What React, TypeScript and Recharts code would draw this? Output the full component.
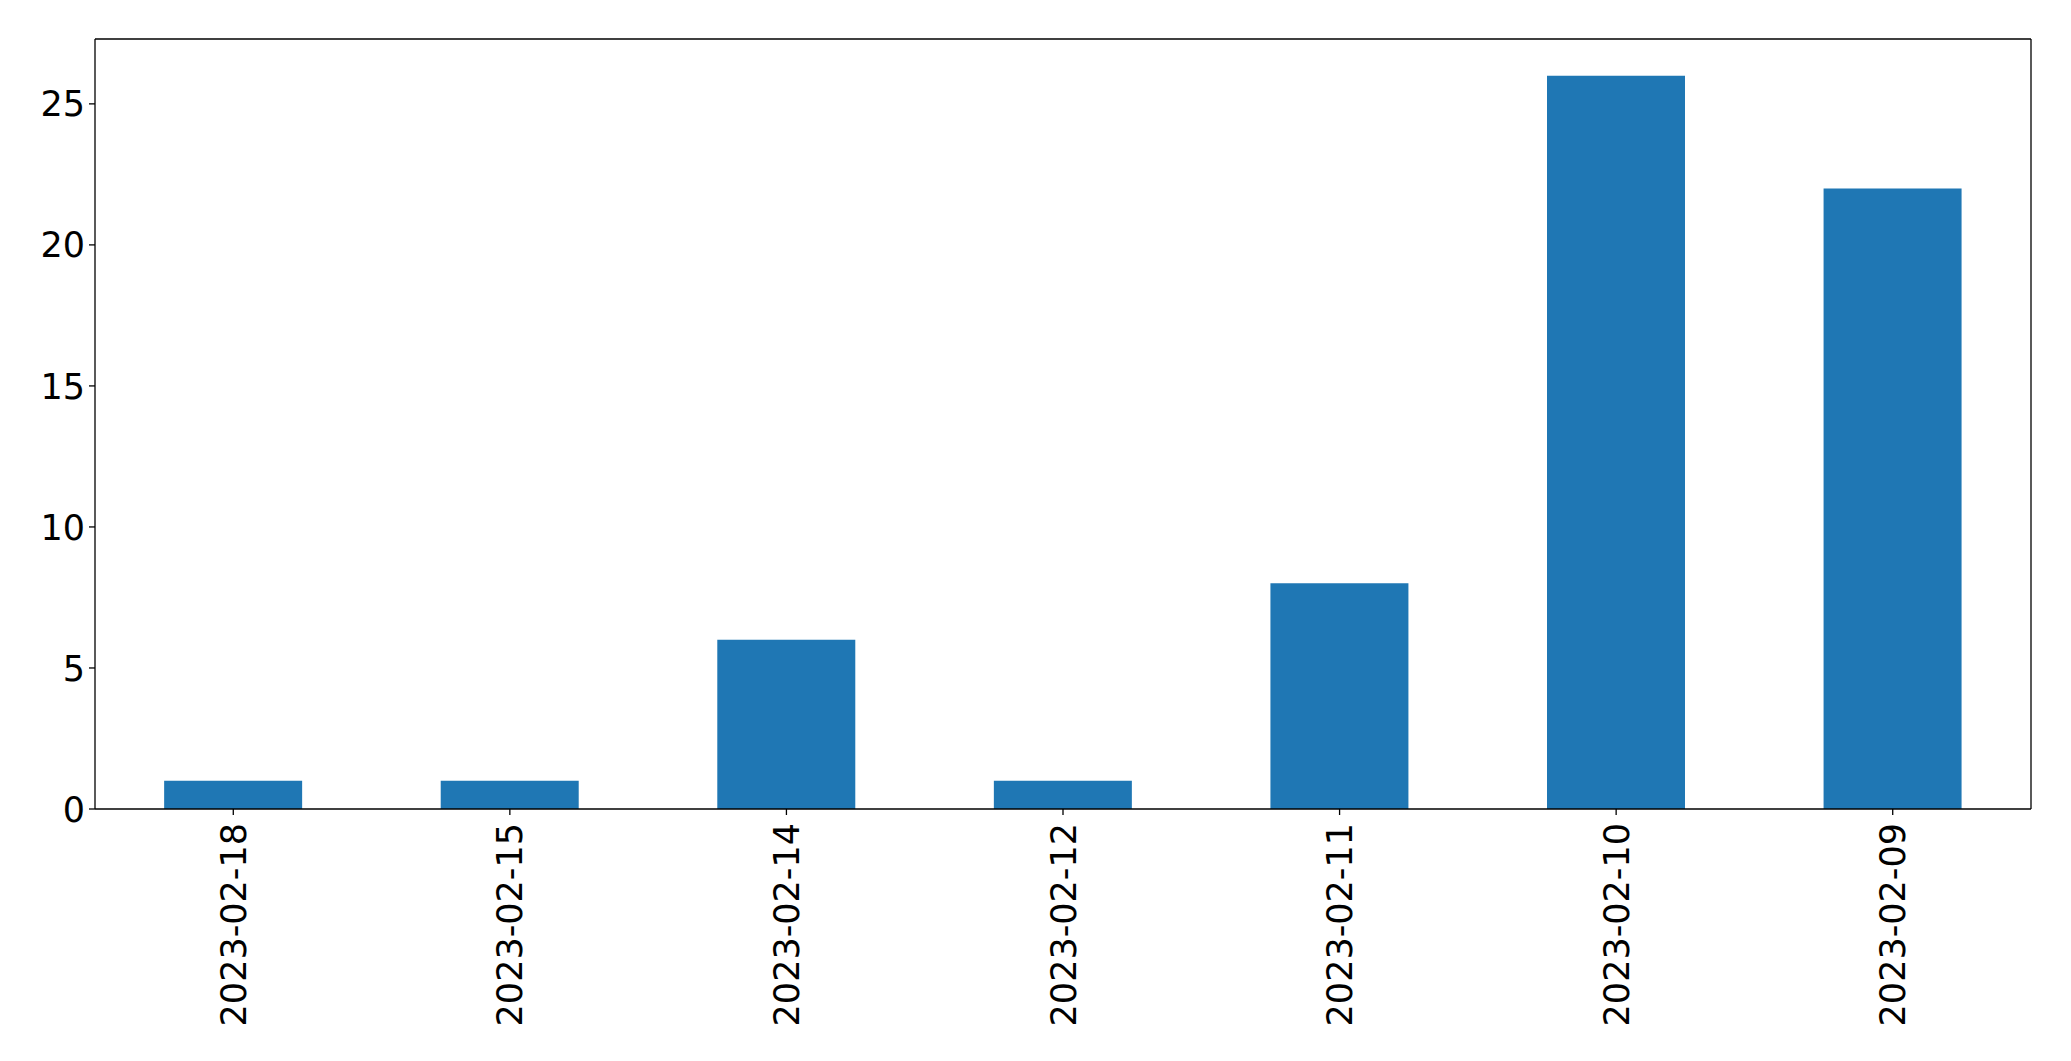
import React from "react";
import { BarChart, Bar, XAxis, YAxis, ReferenceLine } from "recharts";

const categories = ["2023-02-18", "2023-02-15", "2023-02-14", "2023-02-12", "2023-02-11", "2023-02-10", "2023-02-09"];
const counts = [1, 1, 6, 1, 8, 26, 22];
const yTicks = [0, 5, 10, 15, 20, 25];
const yMax = 27.3;

const data = categories.map((c, i) => ({ date: c, count: counts[i] }));

const FONT = "DejaVu Sans";
const FS = 35;

const XTick = (props: any) => {
  const { x, y, payload } = props;
  return (
    <text
      x={0}
      y={0}
      transform={`translate(${x},${y + 6}) rotate(-90)`}
      textAnchor="end"
      dy="0.36em"
      fontFamily={FONT}
      fontSize={FS}
      fill="#000"
    >
      {payload.value}
    </text>
  );
};

const YTick = (props: any) => {
  const { x, y, payload } = props;
  return (
    <text x={x - 2} y={y} textAnchor="end" dy="0.36em" fontFamily={FONT} fontSize={FS} fill="#000">
      {payload.value}
    </text>
  );
};

export default function App() {
  return (
    <div style={{ position: "absolute", left: 0, top: 0, background: "#fff" }}>
      <BarChart
        width={2071}
        height={1061}
        data={data}
        margin={{ top: 39, right: 40, bottom: 0, left: 0 }}
        barCategoryGap="25%"
      >
        <XAxis
          dataKey="date"
          height={252}
          tick={<XTick />}
          tickSize={6}
          tickLine={{ stroke: "#000", strokeWidth: 1.3 }}
          axisLine={{ stroke: "#000", strokeWidth: 1.3 }}
          interval={0}
        />
        <YAxis
          width={95}
          domain={[0, yMax]}
          ticks={yTicks}
          type="number"
          allowDataOverflow
          tick={<YTick />}
          tickSize={6}
          tickLine={{ stroke: "#000", strokeWidth: 1.3 }}
          axisLine={{ stroke: "#000", strokeWidth: 1.3 }}
        />
        <Bar dataKey="count" fill="#1f77b4" isAnimationActive={false} />
        <ReferenceLine y={yMax} stroke="#000" strokeWidth={1.3} ifOverflow="visible" />
        <ReferenceLine
          x={categories[categories.length - 1]}
          position="end"
          stroke="#000"
          strokeWidth={1.3}
          ifOverflow="visible"
        />
      </BarChart>
    </div>
  );
}
